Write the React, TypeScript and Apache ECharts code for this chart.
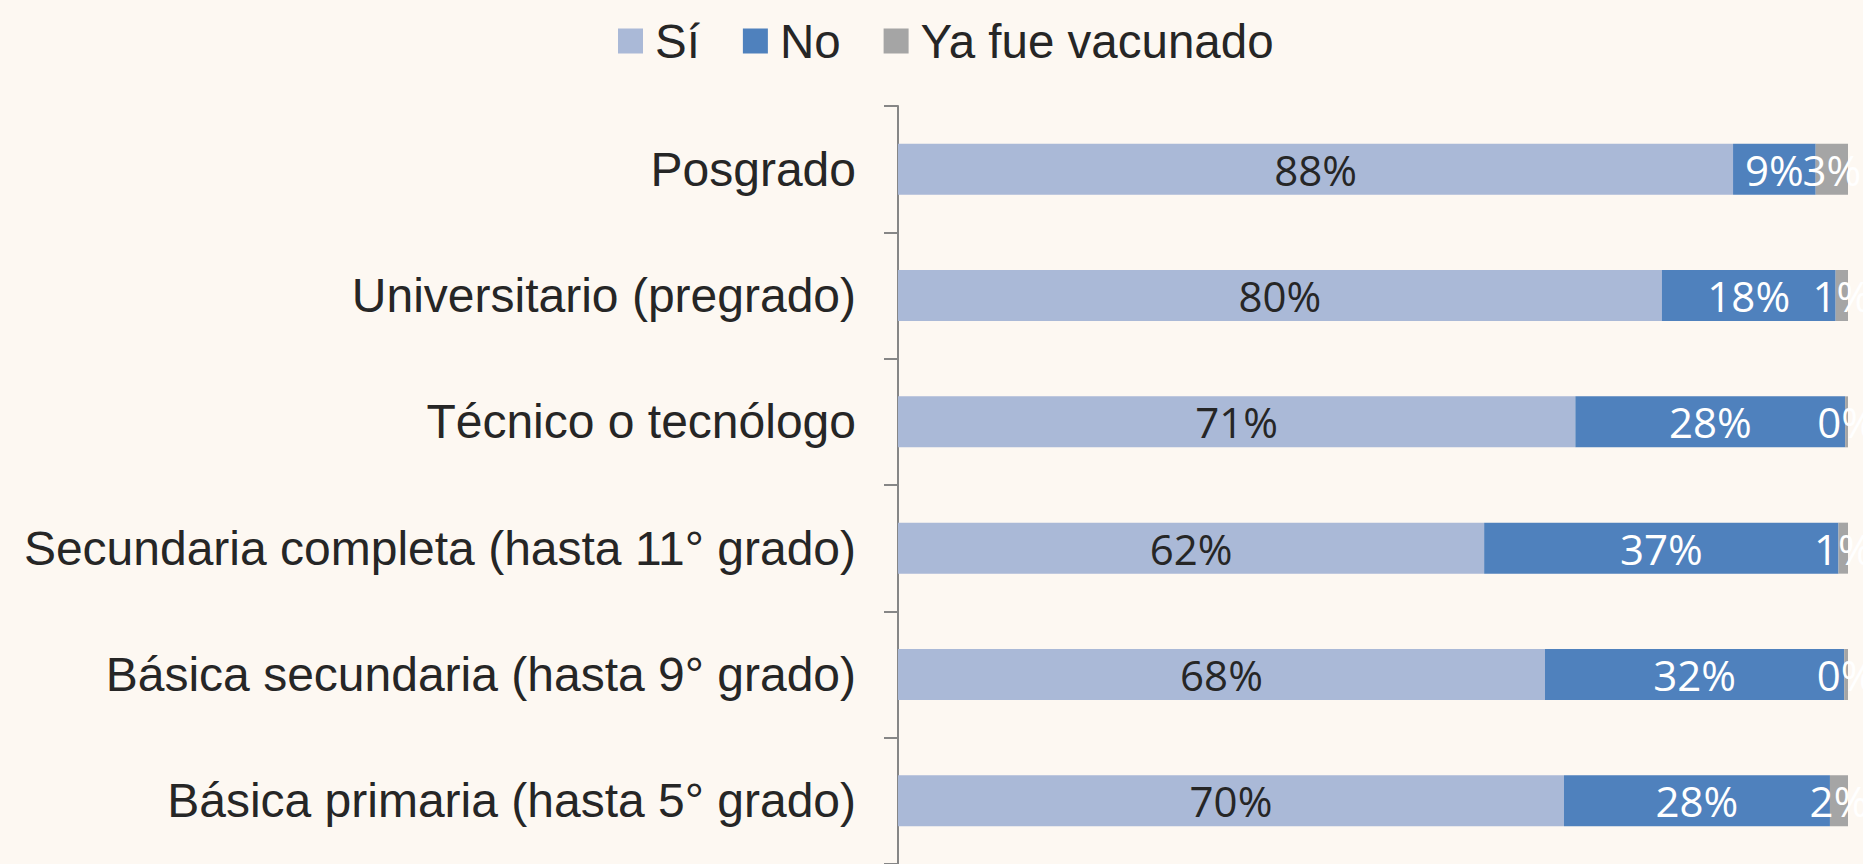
import React, { useEffect, useRef } from "react";
import * as echarts from "echarts";

const categories = [
  "Posgrado",
  "Universitario (pregrado)",
  "Técnico o tecnólogo",
  "Secundaria completa (hasta 11° grado)",
  "Básica secundaria (hasta 9° grado)",
  "Básica primaria (hasta 5° grado)",
];
const seriesNames = ["Sí", "No", "Ya fue vacunado"];
const si = [87.9, 80.4, 71.3, 61.7, 68.1, 70.1];
const no = [8.7, 18.3, 28.4, 37.3, 31.5, 28.0];
const yaFue = [3.4, 1.3, 0.3, 1.0, 0.4, 1.9];

const colors = ["#AAB9D7", "#4F81BD", "#A5A5A5"];
const BG = "#FDF8F2";
const TEXT = "#262626";

export default function App() {
  const ref = useRef<HTMLDivElement>(null);
  useEffect(() => {
    if (!ref.current) return;
    const chart = echarts.init(ref.current, null, { renderer: "svg" });
    const labelFont = "'Open Sans', Lato, sans-serif";
    const mk = (name: string, data: number[], color: string, labelColor: string) => ({
      name,
      type: "bar",
      stack: "total",
      barWidth: 51,
      data,
      itemStyle: { color },
      label: {
        show: true,
        position: "inside",
        color: labelColor,
        fontFamily: labelFont,
        fontSize: 42,
        formatter: (p: any) => Math.round(p.value) + "%",
      },
    });
    chart.setOption({
      animation: false,
      backgroundColor: BG,
      legend: {
        top: 17,
        left: 618,
        padding: 0,
        itemWidth: 25,
        itemHeight: 25,
        itemGap: 43,
        icon: "rect",
        data: seriesNames,
        textStyle: {
          fontFamily: "'Liberation Sans', Arial, sans-serif",
          fontSize: 47.5,
          color: TEXT,
          padding: [0, 0, 0, 7],
        },
      },
      grid: { left: 898, top: 106, width: 950, height: 766 },
      xAxis: { type: "value", min: 0, max: 100, show: false },
      yAxis: {
        type: "category",
        inverse: true,
        data: categories,
        axisLine: { show: true, lineStyle: { color: "#868686", width: 2 } },
        axisTick: { show: true, length: 14, lineStyle: { color: "#868686", width: 2 } },
        axisLabel: {
          margin: 42,
          fontFamily: "'Liberation Sans', Arial, sans-serif",
          fontSize: 48,
          color: TEXT,
        },
      },
      series: [
        mk(seriesNames[0], si, colors[0], TEXT),
        mk(seriesNames[1], no, colors[1], "#FFFFFF"),
        mk(seriesNames[2], yaFue, colors[2], "#FFFFFF"),
      ],
    });
    return () => chart.dispose();
  }, []);
  return (
    <div
      ref={ref}
      style={{ position: "fixed", left: 0, top: 0, width: 1863, height: 864, background: BG }}
    />
  );
}
